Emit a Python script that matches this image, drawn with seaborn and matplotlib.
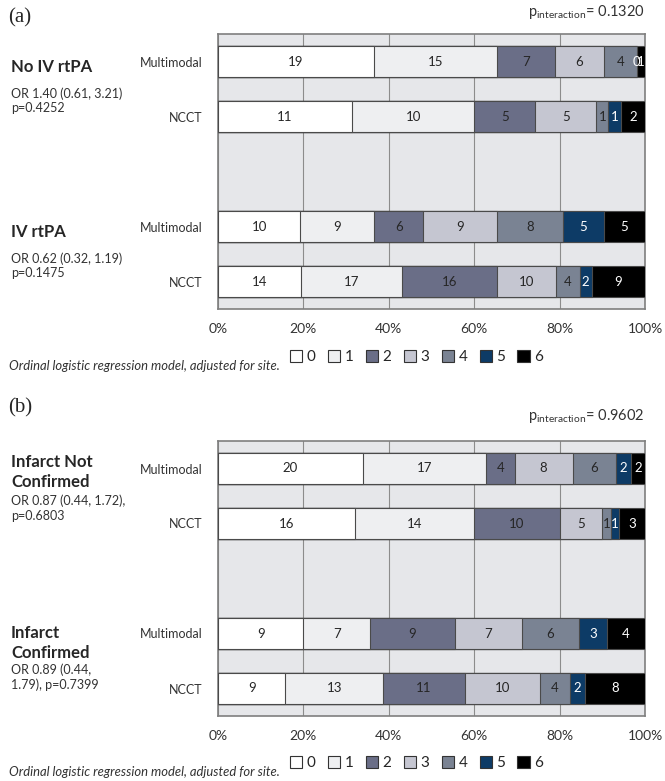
import numpy as np
import pandas as pd
import matplotlib
matplotlib.use("Agg")
import matplotlib.pyplot as plt
from matplotlib.patches import Patch
import seaborn as sns

# mRS-style ordinal scores and their fills
SCORES = ["0", "1", "2", "3", "4", "5", "6"]
SCORE_COLORS = ["#ffffff", "#eeeff1", "#6a6e87", "#c5c6d1", "#7a8393", "#0d3b66", "#000000"]

# row slots on the categorical axis (middle one left empty as spacer)
ROW_IDS = ["g1_mm", "g1_ncct", "spacer", "g2_mm", "g2_ncct"]
ROW_LABELS = ["Multimodal", "NCCT", "", "Multimodal", "NCCT"]

# panel (a): counts per score
A_NO_RTPA_MM = [19, 15, 7, 6, 4, 0, 1]
A_NO_RTPA_NCCT = [11, 10, 5, 5, 1, 1, 2]
A_RTPA_MM = [10, 9, 6, 9, 8, 5, 5]
A_RTPA_NCCT = [14, 17, 16, 10, 4, 2, 9]
A_GROUPS = ["No IV rtPA", "IV rtPA"]
A_STATS = ["OR 1.40 (0.61, 3.21)\np=0.4252", "OR 0.62 (0.32, 1.19)\np=0.1475"]
A_P_INTERACTION = "0.1320"

# panel (b): counts per score
B_NOT_CONF_MM = [20, 17, 4, 8, 6, 2, 2]
B_NOT_CONF_NCCT = [16, 14, 10, 5, 1, 1, 3]
B_CONF_MM = [9, 7, 9, 7, 6, 3, 4]
B_CONF_NCCT = [9, 13, 11, 10, 4, 2, 8]
B_GROUPS = ["Infarct Not\nConfirmed", "Infarct\nConfirmed"]
B_STATS = ["OR 0.87 (0.44, 1.72),\np=0.6803", "OR 0.89 (0.44,\n1.79), p=0.7399"]
B_P_INTERACTION = "0.9602"

FOOTNOTE = "Ordinal logistic regression model, adjusted for site."
X_TICKS = [0, 20, 40, 60, 80, 100]

BG = "#e6e7ea"
EDGE = "#4a4a4a"

sns.set_style("white")
plt.rcParams["font.family"] = ["Lato", "DejaVu Sans"]
plt.rcParams["mathtext.fontset"] = "custom"
plt.rcParams["mathtext.rm"] = "Lato"
plt.rcParams["mathtext.it"] = "Lato:italic"
plt.rcParams["mathtext.bf"] = "Lato:bold"

W, H = 665, 781


def fx(px):
    return px / W


def fy(py):
    return 1 - py / H


def long_table(rows):
    recs = []
    for rid, counts in rows.items():
        counts = np.array(counts, dtype=float)
        pct = 100 * counts / counts.sum()
        cum = np.cumsum(pct)
        for k, s in enumerate(SCORES):
            recs.append({"row": rid, "score": s, "k": k, "n": int(counts[k]),
                         "pct": pct[k], "cum": cum[k]})
    return pd.DataFrame(recs)


def draw_panel(ax, rows):
    df = long_table(rows)
    # stacked look: draw cumulative bars from the last score backwards
    for k in reversed(range(len(SCORES))):
        sub = df[df["k"] == k]
        sns.barplot(data=sub, x="cum", y="row", order=ROW_IDS, orient="y",
                    color=SCORE_COLORS[k], saturation=1, width=0.56,
                    edgecolor=EDGE, linewidth=0.8, errorbar=None, ax=ax, zorder=3)
    for _, r in df.iterrows():
        yi = ROW_IDS.index(r["row"])
        col = "white" if r["k"] >= 5 else "#262626"
        ax.text(r["cum"] - r["pct"] / 2, yi, str(r["n"]), ha="center", va="center",
                fontsize=9.5, color=col, zorder=5)

    ax.set_facecolor(BG)
    ax.set_xlim(0, 100)
    ax.set_ylim(4.5, -0.5)
    ax.set_xticks(X_TICKS)
    ax.set_xticklabels([f"{t}%" for t in X_TICKS], fontsize=10, color="#333333")
    ax.set_yticks(range(len(ROW_IDS)))
    ax.set_yticklabels(ROW_LABELS, fontsize=9, color="#333333")
    ax.tick_params(axis="x", length=0, pad=10)
    ax.tick_params(axis="y", length=0, pad=11)
    ax.set_xlabel("")
    ax.set_ylabel("")
    ax.set_axisbelow(True)
    ax.grid(axis="x", color="#8c8c8c", linewidth=0.8)
    ax.grid(axis="y", visible=False)
    for sp in ax.spines.values():
        sp.set_visible(True)
        sp.set_color("#7f7f7f")
        sp.set_linewidth(1.2)


def legend_and_note(fig, y_leg, y_note):
    handles = [Patch(facecolor=c, edgecolor="#333333", linewidth=0.8) for c in SCORE_COLORS]
    fig.legend(handles, SCORES, loc="center left", bbox_to_anchor=(fx(290), fy(y_leg)),
               ncol=7, frameon=False, handlelength=0.8, handleheight=0.8,
               handletextpad=0.3, columnspacing=0.8, fontsize=11,
               borderaxespad=0, borderpad=0)
    fig.text(fx(9), fy(y_note), FOOTNOTE, fontsize=9.4, style="italic",
             color="#333333", va="center")


fig = plt.figure(figsize=(W / 100, H / 100), dpi=100)
fig.patch.set_facecolor("white")

# ---- panel (a)
ax_a = fig.add_axes([fx(218), fy(309), fx(427), 275 / H])
draw_panel(ax_a, {"g1_mm": A_NO_RTPA_MM, "g1_ncct": A_NO_RTPA_NCCT,
                  "g2_mm": A_RTPA_MM, "g2_ncct": A_RTPA_NCCT})
fig.text(fx(8), fy(18), "(a)", family="Liberation Serif", fontsize=15, va="center")
fig.text(fx(645), fy(12), r"p$_{\mathrm{interaction}}$= " + A_P_INTERACTION,
         fontsize=10.5, ha="right", va="center", color="#333333")
fig.text(fx(11), fy(67), A_GROUPS[0], fontsize=12, fontweight="bold", va="center")
fig.text(fx(11), fy(100.5), A_STATS[0], fontsize=9, va="center", linespacing=1.25,
         color="#333333")
fig.text(fx(11), fy(232), A_GROUPS[1], fontsize=12, fontweight="bold", va="center")
fig.text(fx(11), fy(265.5), A_STATS[1], fontsize=9, va="center", linespacing=1.25,
         color="#333333")
legend_and_note(fig, 357, 366)

# ---- panel (b)
ax_b = fig.add_axes([fx(218), fy(716), fx(427), 275 / H])
draw_panel(ax_b, {"g1_mm": B_NOT_CONF_MM, "g1_ncct": B_NOT_CONF_NCCT,
                  "g2_mm": B_CONF_MM, "g2_ncct": B_CONF_NCCT})
fig.text(fx(8), fy(408), "(b)", family="Liberation Serif", fontsize=15, va="center")
fig.text(fx(645), fy(416), r"p$_{\mathrm{interaction}}$= " + B_P_INTERACTION,
         fontsize=10.5, ha="right", va="center", color="#333333")
fig.text(fx(11), fy(472), B_GROUPS[0], fontsize=12, fontweight="bold", va="center",
         linespacing=1.25)
fig.text(fx(11), fy(508), B_STATS[0], fontsize=9, va="center", linespacing=1.25,
         color="#333333")
fig.text(fx(11), fy(643), B_GROUPS[1], fontsize=12, fontweight="bold", va="center",
         linespacing=1.25)
fig.text(fx(11), fy(677), B_STATS[1], fontsize=9, va="center", linespacing=1.25,
         color="#333333")
legend_and_note(fig, 763, 772)

fig.savefig("out.png", dpi=100)
